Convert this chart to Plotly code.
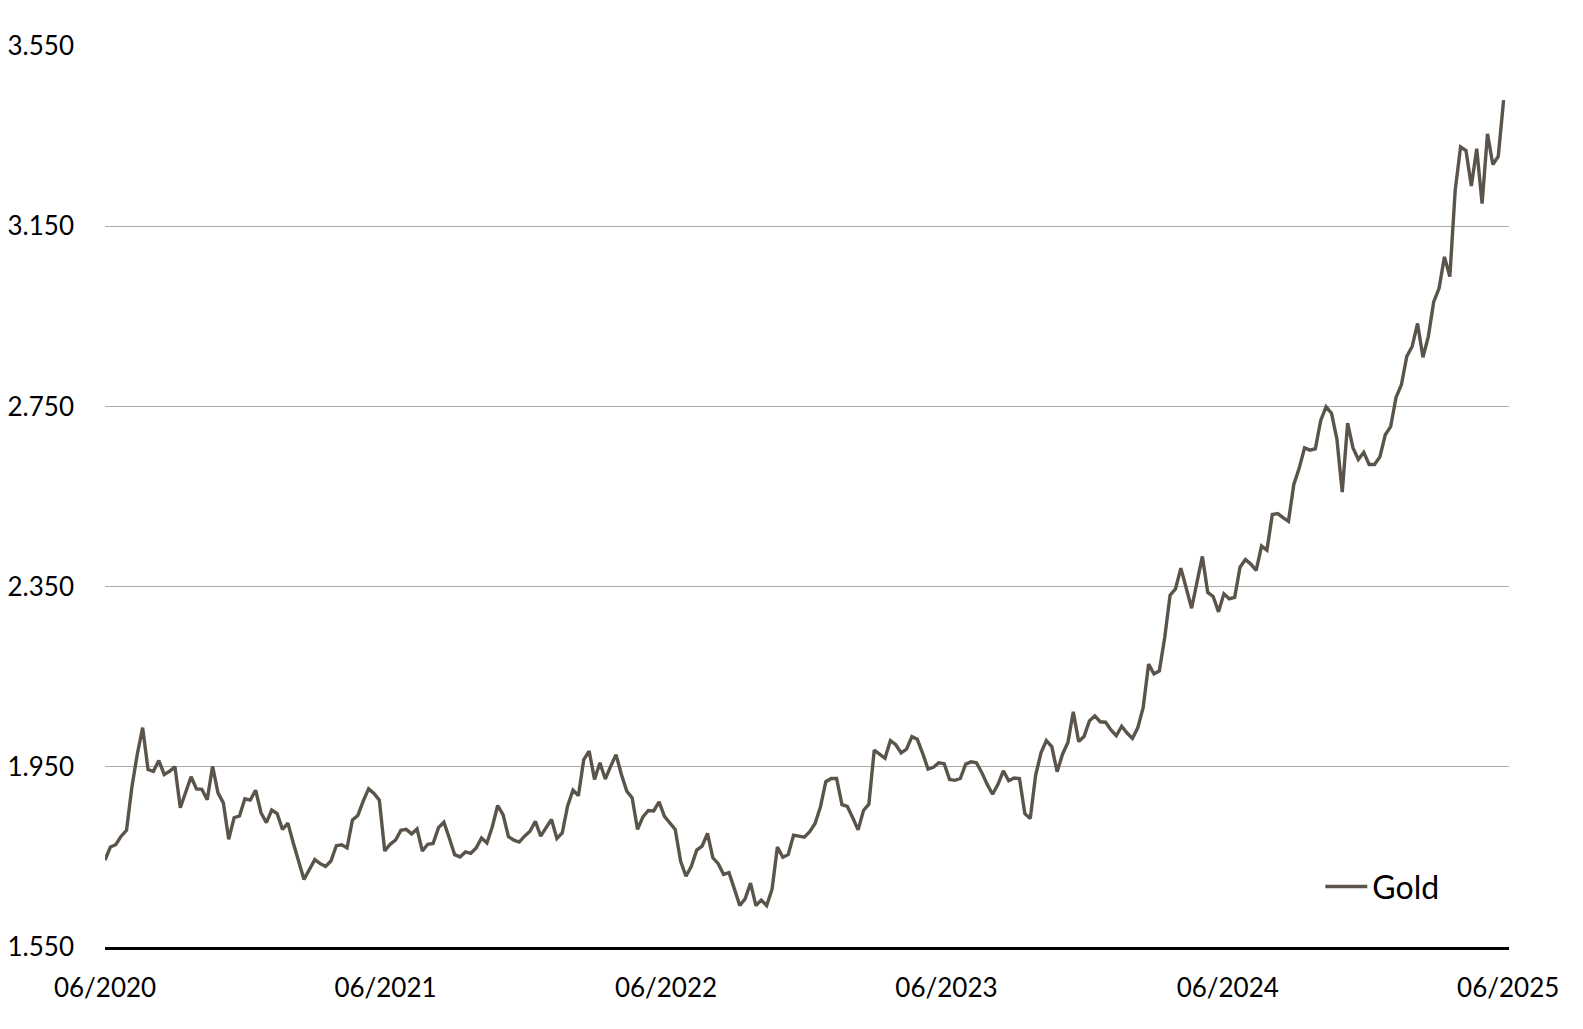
import pandas as pd
import plotly.graph_objects as go

# Weekly gold price (USD/oz), first week = 19 Jun 2020
start_date = "2020-06-19"
gold = [
    1743, 1772, 1777, 1796, 1809, 1905, 1978, 2037, 1944, 1940, 1964, 1933, 1940, 1950, 1859,
    1892, 1928, 1901, 1900, 1877, 1951, 1892, 1870, 1789, 1837, 1841, 1879, 1876, 1898, 1848,
    1826, 1854, 1846, 1811, 1825, 1781, 1737, 1700, 1722, 1744, 1735, 1729, 1741, 1775, 1777,
    1770, 1832, 1842, 1874, 1901, 1891, 1876, 1763, 1778, 1787, 1809, 1811, 1801, 1812, 1763,
    1778, 1780, 1815, 1827, 1792, 1755, 1750, 1761, 1758, 1770, 1792, 1781, 1817, 1864, 1844,
    1795, 1787, 1783, 1796, 1807, 1829, 1796, 1815, 1833, 1791, 1803, 1863,
    1898, 1886, 1966, 1985, 1922, 1959, 1923, 1951, 1977, 1933, 1896, 1881, 1811, 1839, 1853,
    1852, 1872, 1840, 1826, 1811, 1741, 1707, 1729, 1765, 1774, 1802, 1748, 1735, 1711, 1715,
    1679, 1642, 1657, 1692, 1642, 1654, 1642, 1678, 1772, 1749, 1755, 1798, 1796,
    1794, 1806, 1824, 1861, 1917, 1924, 1924, 1866, 1862, 1837, 1810, 1853, 1867, 1987, 1978,
    1969, 2008, 1999, 1981, 1989, 2017, 2011, 1980, 1945, 1949, 1959, 1957, 1922, 1920, 1924,
    1956, 1961, 1959, 1937, 1911, 1889, 1911, 1941, 1919, 1925, 1924, 1846, 1835, 1931, 1981,
    2008, 1995, 1939, 1978, 2004, 2072, 2006, 2017, 2052, 2063, 2050, 2049, 2032, 2019, 2040,
    2025, 2013, 2037, 2082, 2178, 2156, 2163, 2237, 2331, 2345, 2391, 2345, 2302, 2360, 2417,
    2337, 2328, 2294, 2334, 2323, 2326, 2393, 2410, 2400, 2386, 2440,
    2431, 2510, 2512, 2503, 2495, 2577, 2613, 2658, 2653, 2656, 2719, 2749, 2735, 2678, 2560,
    2713, 2658, 2632, 2648, 2621, 2621, 2638, 2687, 2705, 2770,
    2798, 2861, 2883, 2934, 2859, 2905, 2982, 3012, 3082, 3038, 3230, 3326, 3318, 3239, 3322,
    3200, 3355, 3287, 3305, 3430,
]
dates = pd.date_range(start_date, periods=len(gold), freq="7D")

x_tick_dates = ["2020-06-19", "2021-06-19", "2022-06-19", "2023-06-19", "2024-06-19", "2025-06-19"]
x_tick_labels = ["06/2020", "06/2021", "06/2022", "06/2023", "06/2024", "06/2025"]
y_ticks = [1550, 1950, 2350, 2750, 3150, 3550]
y_tick_labels = ["1.550", "1.950", "2.350", "2.750", "3.150", "3.550"]
x_range = ["2020-06-19", "2025-06-20"]

FONT = "Lato"
LINE_COLOR = "#5b544b"

fig = go.Figure()
fig.add_trace(go.Scatter(
    x=dates, y=gold, mode="lines", name="Gold",
    line=dict(color=LINE_COLOR, width=3.4),
))

# page body has an 8px default margin, so the figure is 8px smaller on each side
fig.update_layout(
    width=1575, height=1021,
    margin=dict(l=97, r=74, t=38, b=82, autoexpand=False),
    paper_bgcolor="white", plot_bgcolor="white",
    font=dict(family=FONT, color="black", size=26),
    showlegend=True,
    legend=dict(
        x=0.8656, y=0.067, xanchor="left", yanchor="middle",
        font=dict(family=FONT, size=32, color="black"),
        bgcolor="rgba(0,0,0,0)", itemwidth=42,
    ),
)
fig.update_xaxes(
    range=x_range, tickvals=x_tick_dates, ticktext=x_tick_labels,
    showgrid=False, zeroline=False, automargin=False,
    showline=True, linecolor="black", linewidth=2.5,
    ticks="", ticklabelstandoff=16,
    tickfont=dict(family=FONT, size=26, color="black"),
)
fig.update_yaxes(
    range=[1550, 3550], tickvals=y_ticks, ticktext=y_tick_labels,
    showgrid=True, gridcolor="#ababab", gridwidth=1,
    zeroline=False, showline=False, automargin=False,
    ticks="", ticklabelstandoff=30,
    tickfont=dict(family=FONT, size=26, color="black"),
)

fig.write_html("out.html")
